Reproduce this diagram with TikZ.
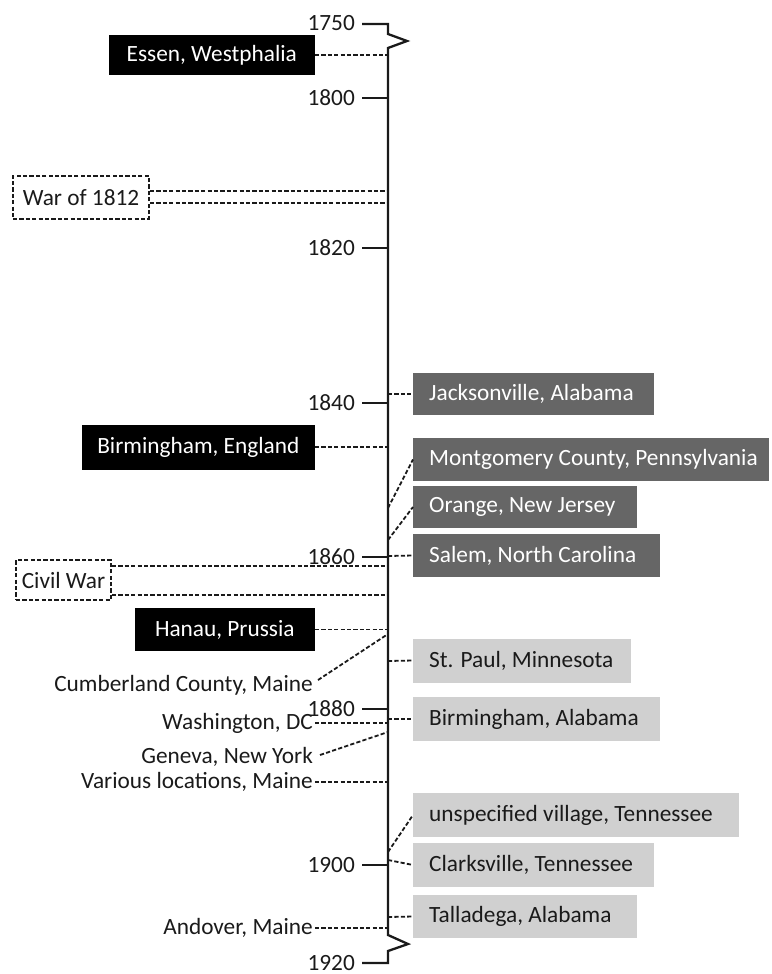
\documentclass[tikz,border=0pt]{standalone}
\usepackage{fontspec}
\setmainfont{Carlito}
\definecolor{boxdark}{HTML}{666666}
\definecolor{boxlight}{HTML}{D0D0D0}
\definecolor{ink}{HTML}{1A1A1A}
\begin{document}
\begin{tikzpicture}[x=1pt,y=-1pt,
  font=\fontsize{23.3}{27}\selectfont,
  dsh/.style={line width=1.8pt, dash pattern=on 4.2pt off 2.2pt, draw=ink},
  axisline/.style={line width=2.3pt, draw=ink},
  year/.style={anchor=east, inner sep=0pt, text=ink},
  place/.style={anchor=east, inner sep=2pt, text=ink},
  blackbox/.style={fill=black, text=white, anchor=east, inner sep=0pt},
  darkbox/.style={fill=boxdark, text=white, anchor=west, inner xsep=16pt, inner ysep=0pt},
  lightbox/.style={fill=boxlight, text=ink, anchor=west, inner xsep=16pt, inner ysep=0pt},
  warbox/.style={draw=ink, line width=1.8pt, dash pattern=on 4.2pt off 2.2pt, inner sep=0pt, text=ink},
]
\useasboundingbox (0,0) rectangle (771,974);

% axis with breaks
\coordinate (tk1750) at (362,24);
\coordinate (tk1920) at (362,963);
\draw[axisline, line join=miter] (tk1750) -- (388,24) -- (388,34) -- (407,41) -- (388,48)
  -- (388,935) -- (408,944) -- (388,951) -- (388,963) -- (tk1920);

% year labels and ticks
\foreach \yr/\yy in {1750/23,1800/98,1820/248,1840/403,1860/557,1880/709,1900/865,1920/963} {
  \node[year] (y\yr) at (355,\yy) {\yr};
}
\foreach \yr/\yy in {1800/98,1820/248,1840/403,1860/557,1880/709,1900/865} {
  \coordinate (tk\yr) at (362,\yy);
  \coordinate (ax\yr) at (388,\yy);
  \draw[axisline] (tk\yr) -- (ax\yr);
}

% ---- left side ----
\node[blackbox, minimum width=206pt, minimum height=40pt] (essen) at (315,55) {Essen, Westphalia};
\coordinate (aEssen) at (388,55);
\draw[dsh] (essen) -- (aEssen);

\node[warbox, minimum width=136pt, minimum height=43pt] (war) at (81,197.5) {War of 1812};
\coordinate (aW1) at (388,191);
\coordinate (aW2) at (388,203);
\draw[dsh] (aW1 -| war.east) -- (aW1);
\draw[dsh] (aW2 -| war.east) -- (aW2);

\node[blackbox, minimum width=233pt, minimum height=45pt] (birmE) at (315,447) {Birmingham, England};
\coordinate (aBirmE) at (388,447);
\draw[dsh] (birmE) -- (aBirmE);

\node[warbox, minimum width=95pt, minimum height=40pt] (civil) at (63.5,580) {Civil War};
\coordinate (aC1) at (388,566);
\coordinate (aC2) at (388,595);
\draw[dsh] (aC1 -| civil.east) -- (aC1);
\draw[dsh] (aC2 -| civil.east) -- (aC2);

\node[blackbox, minimum width=180pt, minimum height=43pt] (hanau) at (315,629.5) {Hanau, Prussia};
\coordinate (aHanau) at (388,629.5);
\draw[dsh] (hanau) -- (aHanau);

\node[place] (cumb) at (315,685) {Cumberland County, Maine};
\coordinate (aCumb) at (388,634);
\draw[dsh] ([shift={(3,-5)}]cumb.east) -- (aCumb);

\node[place] (wash) at (315,723) {Washington, DC};
\coordinate (aWash) at (388,723);
\draw[dsh] (wash.east) -- (aWash);

\node[place] (gen) at (315,757) {Geneva, New York};
\coordinate (aGen) at (388,732);
\draw[dsh] ([shift={(5,-2)}]gen.east) -- (aGen);

\node[place] (var) at (315,782) {Various locations, Maine};
\coordinate (aVar) at (388,782);
\draw[dsh] (var.east) -- (aVar);

\node[place] (andover) at (315,928) {Andover, Maine};
\coordinate (aAnd) at (388,928);
\draw[dsh] (andover.east) -- (aAnd);

% ---- right side ----
\node[darkbox, minimum height=42pt] (jack) at (413,394) {\makebox[209pt][l]{Jacksonville, Alabama}};
\coordinate (aJack) at (388,394);
\draw[dsh] (aJack) -- (jack.west);

\node[darkbox, minimum height=43pt] (mont) at (413,459.5) {\makebox[324pt][l]{Montgomery County, Pennsylvania}};
\coordinate (aMont) at (388,508);
\draw[dsh] (aMont) -- (mont.west);

\node[darkbox, minimum height=42pt] (orange) at (413,507) {\makebox[192pt][l]{Orange, New Jersey}};
\coordinate (aOrange) at (388,540);
\draw[dsh] (aOrange) -- (orange.west);

\node[darkbox, minimum height=43pt] (salem) at (413,555.5) {\makebox[215pt][l]{Salem, North Carolina}};
\coordinate (aSalem) at (388,556);
\draw[dsh] (aSalem) -- (salem.west);

\node[lightbox, minimum height=44pt] (stpaul) at (413,660.5) {\makebox[186pt][l]{St. Paul, Minnesota}};
\coordinate (aStPaul) at (388,661);
\draw[dsh] (aStPaul) -- (stpaul.west);

\node[lightbox, minimum height=44pt] (birmA) at (413,719) {\makebox[215pt][l]{Birmingham, Alabama}};
\coordinate (aBirmA) at (388,719);
\draw[dsh] (aBirmA) -- (birmA.west);

\node[lightbox, minimum height=44pt] (unspec) at (413,815) {\makebox[294pt][l]{unspecified village, Tennessee}};
\coordinate (aUnspec) at (388,852);
\draw[dsh] (aUnspec) -- (unspec.west);

\node[lightbox, minimum height=44pt] (clark) at (413,865) {\makebox[209pt][l]{Clarksville, Tennessee}};
\coordinate (aClark) at (388,860);
\draw[dsh] (aClark) -- (clark.west);

\node[lightbox, minimum height=43pt] (tall) at (413,916.5) {\makebox[192pt][l]{Talladega, Alabama}};
\coordinate (aTall) at (388,917);
\draw[dsh] (aTall) -- (tall.west);
\end{tikzpicture}
\end{document}
